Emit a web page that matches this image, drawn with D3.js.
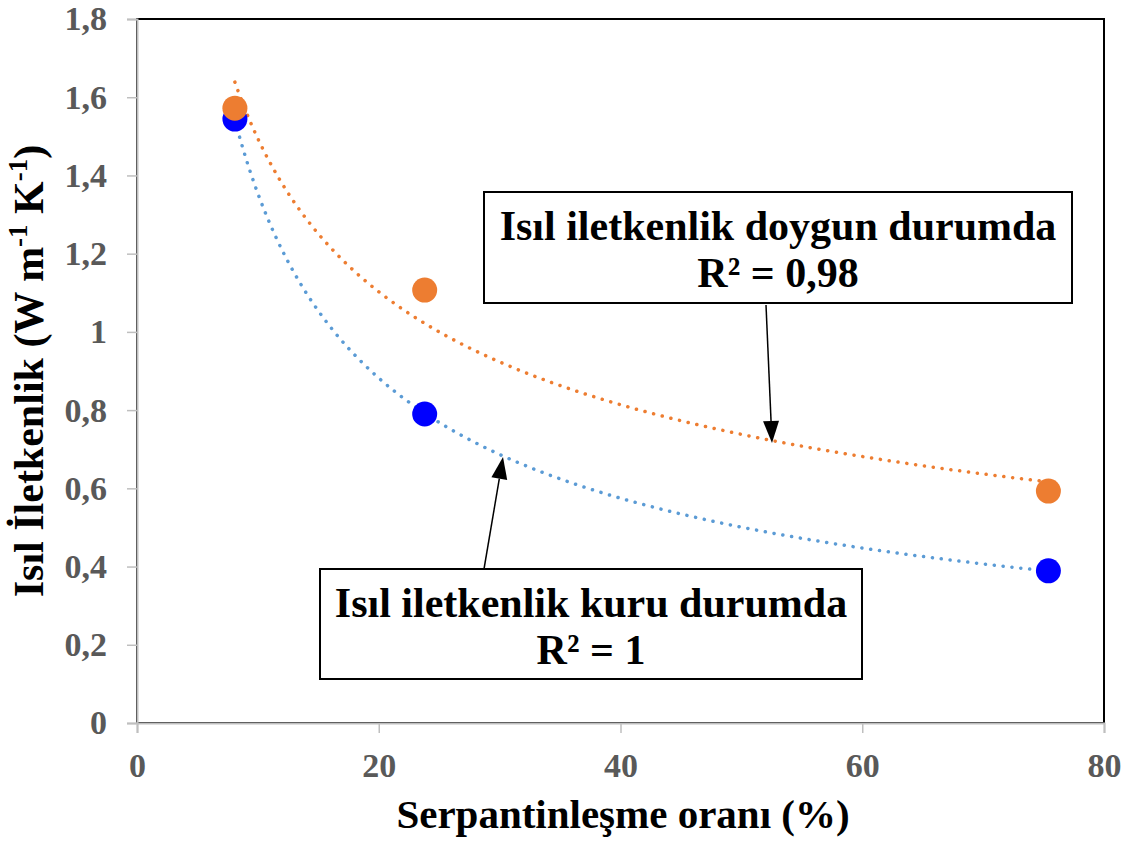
<!DOCTYPE html>
<html><head><meta charset="utf-8">
<script src="https://cdn.jsdelivr.net/npm/d3@7"></script>
<style>body{margin:0;background:#fff}svg{display:block}</style>
</head><body>
<script>
const serpX = [8.1, 23.8, 75.4];
const dryK = [1.544, 0.790, 0.389];
const wetK = [1.572, 1.107, 0.593];
const xTicks = [0, 20, 40, 60, 80];
const yTicks = [0, 0.2, 0.4, 0.6, 0.8, 1, 1.2, 1.4, 1.6, 1.8];
const labelWet = ["Isıl iletkenlik doygun durumda", "R² = 0,98"];
const labelDry = ["Isıl iletkenlik kuru durumda", "R² = 1"];

const FONT = '"Liberation Serif", "Times New Roman", serif';
const W = 1124, H = 844;
const svg = d3.select("body").append("svg").attr("width", W).attr("height", H);
const x = d3.scaleLinear().domain([0, 80]).range([137, 1104]);
const y = d3.scaleLinear().domain([0, 1.8]).range([723, 19]);
const fmt = d => String(d).replace(".", ",");
const txt = (sel, size, fill) => sel.style("font-family", FONT).style("font-weight", "bold").style("font-size", size + "px").attr("fill", fill);

// plot border
svg.append("rect").attr("x", x(0)).attr("y", y(1.8)).attr("width", x(80) - x(0)).attr("height", y(0) - y(1.8))
  .attr("fill", "none").attr("stroke", "#000").attr("stroke-width", 2);

const ya = svg.append("g").attr("transform", `translate(${x(0)},0)`).call(d3.axisLeft(y).tickValues(yTicks).tickFormat(fmt).tickSize(10).tickPadding(20));
const xa = svg.append("g").attr("transform", `translate(0,${y(0)})`).call(d3.axisBottom(x).tickValues(xTicks).tickSize(10).tickPadding(20));
[ya, xa].forEach(a => {
  a.select(".domain").attr("stroke", "#bfbfbf").attr("stroke-width", 2);
  a.selectAll(".tick line").attr("stroke", "#bfbfbf").attr("stroke-width", 1.5);
  txt(a.selectAll(".tick text"), 34, "#595959");
});

// power regression trendlines
function powerFit(xs, ys) {
  const lx = xs.map(Math.log), ly = ys.map(Math.log);
  const mx = d3.mean(lx), my = d3.mean(ly);
  const b = d3.sum(lx.map((v, i) => (v - mx) * (ly[i] - my))) / d3.sum(lx.map(v => (v - mx) ** 2));
  const a = Math.exp(my - b * mx);
  return v => a * Math.pow(v, b);
}
const xsLine = d3.range(0, 201).map(i => serpX[0] + (serpX[2] - serpX[0]) * i / 200);
const line = d3.line().x(d => x(d[0])).y(d => y(d[1]));
[[dryK, "#5b9bd5"], [wetK, "#ed7d31"]].forEach(([ys, c]) => {
  const f = powerFit(serpX, ys);
  svg.append("path").attr("d", line(xsLine.map(v => [v, f(v)]))).attr("fill", "none")
    .attr("stroke", c).attr("stroke-width", 3.5).attr("stroke-linecap", "round").attr("stroke-dasharray", "0.1 8.8");
});

// points
svg.selectAll(".dry").data(serpX).enter().append("circle").attr("cx", d => x(d)).attr("cy", (d, i) => y(dryK[i])).attr("r", 12.5).attr("fill", "#0000ff");
svg.selectAll(".wet").data(serpX).enter().append("circle").attr("cx", d => x(d)).attr("cy", (d, i) => y(wetK[i])).attr("r", 12.5).attr("fill", "#ed7d31");

// annotation boxes
function box(x0, y0, x1, y1, lines, ax0, ay0, ax1, ay1) {
  svg.append("rect").attr("x", x0).attr("y", y0).attr("width", x1 - x0).attr("height", y1 - y0).attr("fill", "#fff").attr("stroke", "#000").attr("stroke-width", 2);
  lines.forEach((t, i) => txt(svg.append("text").attr("x", (x0 + x1) / 2).attr("y", y0 + 48 + i * 47).attr("text-anchor", "middle"), 42, "#000").text(t));
  const ang = Math.atan2(ay1 - ay0, ax1 - ax0);
  const hl = 22, hw = 8;
  const bx = ax1 - hl * Math.cos(ang), by = ay1 - hl * Math.sin(ang);
  svg.append("line").attr("x1", ax0).attr("y1", ay0).attr("x2", bx).attr("y2", by).attr("stroke", "#000").attr("stroke-width", 1.5);
  const px = -Math.sin(ang) * hw, py = Math.cos(ang) * hw;
  svg.append("path").attr("d", `M${ax1},${ay1}L${bx + px},${by + py}L${bx - px},${by - py}Z`).attr("fill", "#000");
}
box(484, 192, 1072, 303, labelWet, 766, 305, 772, 443);
box(320, 569, 862, 679, labelDry, 484, 569, 503, 457);

// axis titles
txt(svg.append("text").attr("x", 623).attr("y", 828).attr("text-anchor", "middle"), 41, "#000").text("Serpantinleşme oranı (%)");
const yt = txt(svg.append("text").attr("transform", "translate(43,371) rotate(-90)").attr("text-anchor", "middle"), 42, "#000");
yt.append("tspan").text("Isıl İletkenlik (W m");
yt.append("tspan").attr("dy", -16).style("font-size", "27px").text("-1");
yt.append("tspan").attr("dy", 16).text(" K");
yt.append("tspan").attr("dy", -16).style("font-size", "27px").text("-1");
yt.append("tspan").attr("dy", 16).text(")");
</script>
</body></html>
